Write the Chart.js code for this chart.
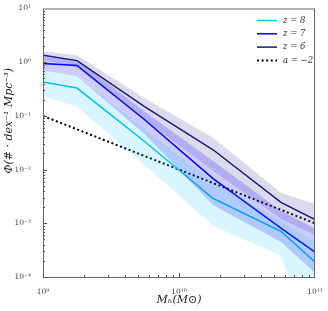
<!DOCTYPE html>
<html><head><meta charset="utf-8">
<script src="https://cdn.jsdelivr.net/npm/chart.js@4/dist/chart.umd.min.js"></script>
<style>html,body{margin:0;padding:0;background:#fff}#wrap{width:328px;height:311px}</style>
</head><body><div id="wrap"><canvas id="c" width="328" height="311"></canvas></div>
<script>
// halo mass bins (M_sun)
const massBins = [1e9, 1.78e9, 5.62e9, 1.78e10, 5.62e10, 1e11];
// median number densities
const phiZ8 = [0.43, 0.33, 0.033, 0.0029, 0.00071, 0.00019];
const phiZ7 = [0.95, 0.87, 0.084, 0.0068, 0.00081, 0.00029];
const phiZ6 = [1.35, 1.07, 0.147, 0.0234, 0.00245, 0.00117];
// scatter bands
const z8Upper = [0.7, 0.55, 0.055, 0.006, 0.0011, 0.00045];
const z8Lower = [0.234, 0.148, 0.012, 0.0009, 0.00025, 0.000005];
const z7Upper = [1.25, 1.1, 0.12, 0.0145, 0.0017, 0.0008];
const z7Lower = [0.7, 0.55, 0.045, 0.0022, 0.00045, 0.00012];
const z6Upper = [1.6, 1.35, 0.21, 0.039, 0.0037, 0.0023];
const z6Lower = [1.1, 0.8, 0.085, 0.0095, 0.0012, 0.0006];
// power law reference a = -2
const powerLawX = [1e9, 1e11];
const powerLawY = [0.1, 0.001];
// axis tick exponents
const xTickExps = [9, 10, 11];
const yTickExps = [-4, -3, -2, -1, 0, 1];
const legendLabels = ['z = 8', 'z = 7', 'z = 6', 'a = \u22122'];

const C8 = '#00bfff', C7 = '#0000ff', C6 = '#191970';
const pts = (xs, ys) => xs.map((x, i) => ({x, y: ys[i]}));
const sup = s => String(s).split('').map(ch => ({'-':'\u207b','0':'\u2070','1':'\u00b9','2':'\u00b2','3':'\u00b3','4':'\u2074','5':'\u2075','6':'\u2076','7':'\u2077','8':'\u2078','9':'\u2079'})[ch]).join('');

function band(up, lo, color) {
  return [
    {data: pts(massBins, up), borderWidth: 0, pointRadius: 0, fill: false, borderColor: 'rgba(0,0,0,0)'},
    {data: pts(massBins, lo), borderWidth: 0, pointRadius: 0, fill: '-1', backgroundColor: color, borderColor: 'rgba(0,0,0,0)'}
  ];
}
function line(ys, color, xs) {
  return {data: pts(xs || massBins, ys), borderColor: color, borderWidth: 1.5, pointRadius: 0, fill: false, tension: 0};
}

const datasets = [
  ...band(z8Upper, z8Lower, 'rgba(0,191,255,0.15)'),
  ...band(z7Upper, z7Lower, 'rgba(0,0,255,0.2)'),
  ...band(z6Upper, z6Lower, 'rgba(40,40,150,0.17)'),
  line(phiZ8, C8), line(phiZ7, C7), line(phiZ6, C6),
  Object.assign(line(powerLawY, '#000', powerLawX), {borderDash: [2, 2.6], borderWidth: 2})
];

const legendStyles = [
  {color: C8, dash: []}, {color: C7, dash: []}, {color: C6, dash: []}, {color: '#000', dash: [2, 2.6], w: 2}
];

const frame = {
  id: 'frame',
  afterDatasetsDraw(chart) {
    const {ctx, chartArea: a, scales} = chart;
    ctx.save();
    ctx.strokeStyle = '#666'; ctx.lineWidth = 1;
    ctx.strokeRect(a.left + 0.5, a.top + 0.5, a.right - a.left - 1, a.bottom - a.top);
    // inward ticks
    ctx.strokeStyle = '#555';
    ctx.beginPath();
    for (let e = -4; e <= 0; e++) for (let k = 1; k <= 9; k++) {
      const y = Math.round(scales.y.getPixelForValue(k * Math.pow(10, e))) + 0.5;
      const L = k === 1 ? 4 : 2;
      ctx.moveTo(a.left, y); ctx.lineTo(a.left + L, y);
    }
    for (let e = 9; e <= 10; e++) for (let k = 1; k <= 9; k++) {
      const x = Math.round(scales.x.getPixelForValue(k * Math.pow(10, e))) + 0.5;
      const L = k === 1 ? 4 : 2;
      ctx.moveTo(x, a.bottom); ctx.lineTo(x, a.bottom - L);
    }
    ctx.stroke();
    // legend
    const x0 = a.right - 58, y0 = a.top + 12, dy = 13.3;
    legendLabels.forEach((t, i) => {
      const s = legendStyles[i], y = y0 + i * dy;
      ctx.beginPath(); ctx.setLineDash(s.dash); ctx.lineWidth = s.w || 1.5; ctx.strokeStyle = s.color;
      ctx.moveTo(x0, y); ctx.lineTo(x0 + 20, y); ctx.stroke();
      ctx.setLineDash([]);
      ctx.fillStyle = '#333'; ctx.font = 'italic 8.5px "DejaVu Serif"'; ctx.textBaseline = 'middle';
      ctx.fillText(t, x0 + 26, y);
    });
    ctx.restore();
  }
};

new Chart(document.getElementById('c'), {
  type: 'line',
  data: {datasets},
  plugins: [frame],
  options: {
    responsive: false, animation: false,
    layout: {padding: {top: 7, right: 13, left: 0, bottom: 0}},
    plugins: {legend: {display: false}, tooltip: {enabled: false}},
    elements: {line: {tension: 0}},
    scales: {
      x: {
        type: 'logarithmic', min: 1e9, max: 1e11,
        afterBuildTicks: s => { s.ticks = xTickExps.map(e => ({value: Math.pow(10, e)})); },
        afterFit: s => { s.height = 34; },
        grid: {display: false}, border: {display: false},
        ticks: {autoSkip: false, maxRotation: 0, padding: 3, color: '#444', font: {family: 'DejaVu Serif', size: 7.5},
          callback: v => '10' + sup(Math.round(Math.log10(v)))},
        title: {display: true, text: 'M\u2095(M\u2299)', color: '#222', font: {family: 'DejaVu Serif', size: 11, style: 'italic'}, padding: {top: 0, bottom: 4}}
      },
      y: {
        type: 'logarithmic', min: 1e-4, max: 10,
        afterBuildTicks: s => { s.ticks = yTickExps.map(e => ({value: Math.pow(10, e)})); },
        afterFit: s => { s.width = 43; },
        grid: {display: false}, border: {display: false},
        ticks: {autoSkip: false, padding: 4, color: '#444', font: {family: 'DejaVu Serif', size: 7.5},
          callback: v => '10' + sup(Math.round(Math.log10(v)))},
        title: {display: true, text: '\u2003\u2003\u2003\u2003\u03a6(# \u00b7 dex\u207b\u00b9 Mpc\u207b\u00b3)', color: '#222', font: {family: 'DejaVu Serif', size: 11, style: 'italic'}, padding: {top: 3, bottom: 0}}
      }
    }
  }
});
</script>
</body></html>
